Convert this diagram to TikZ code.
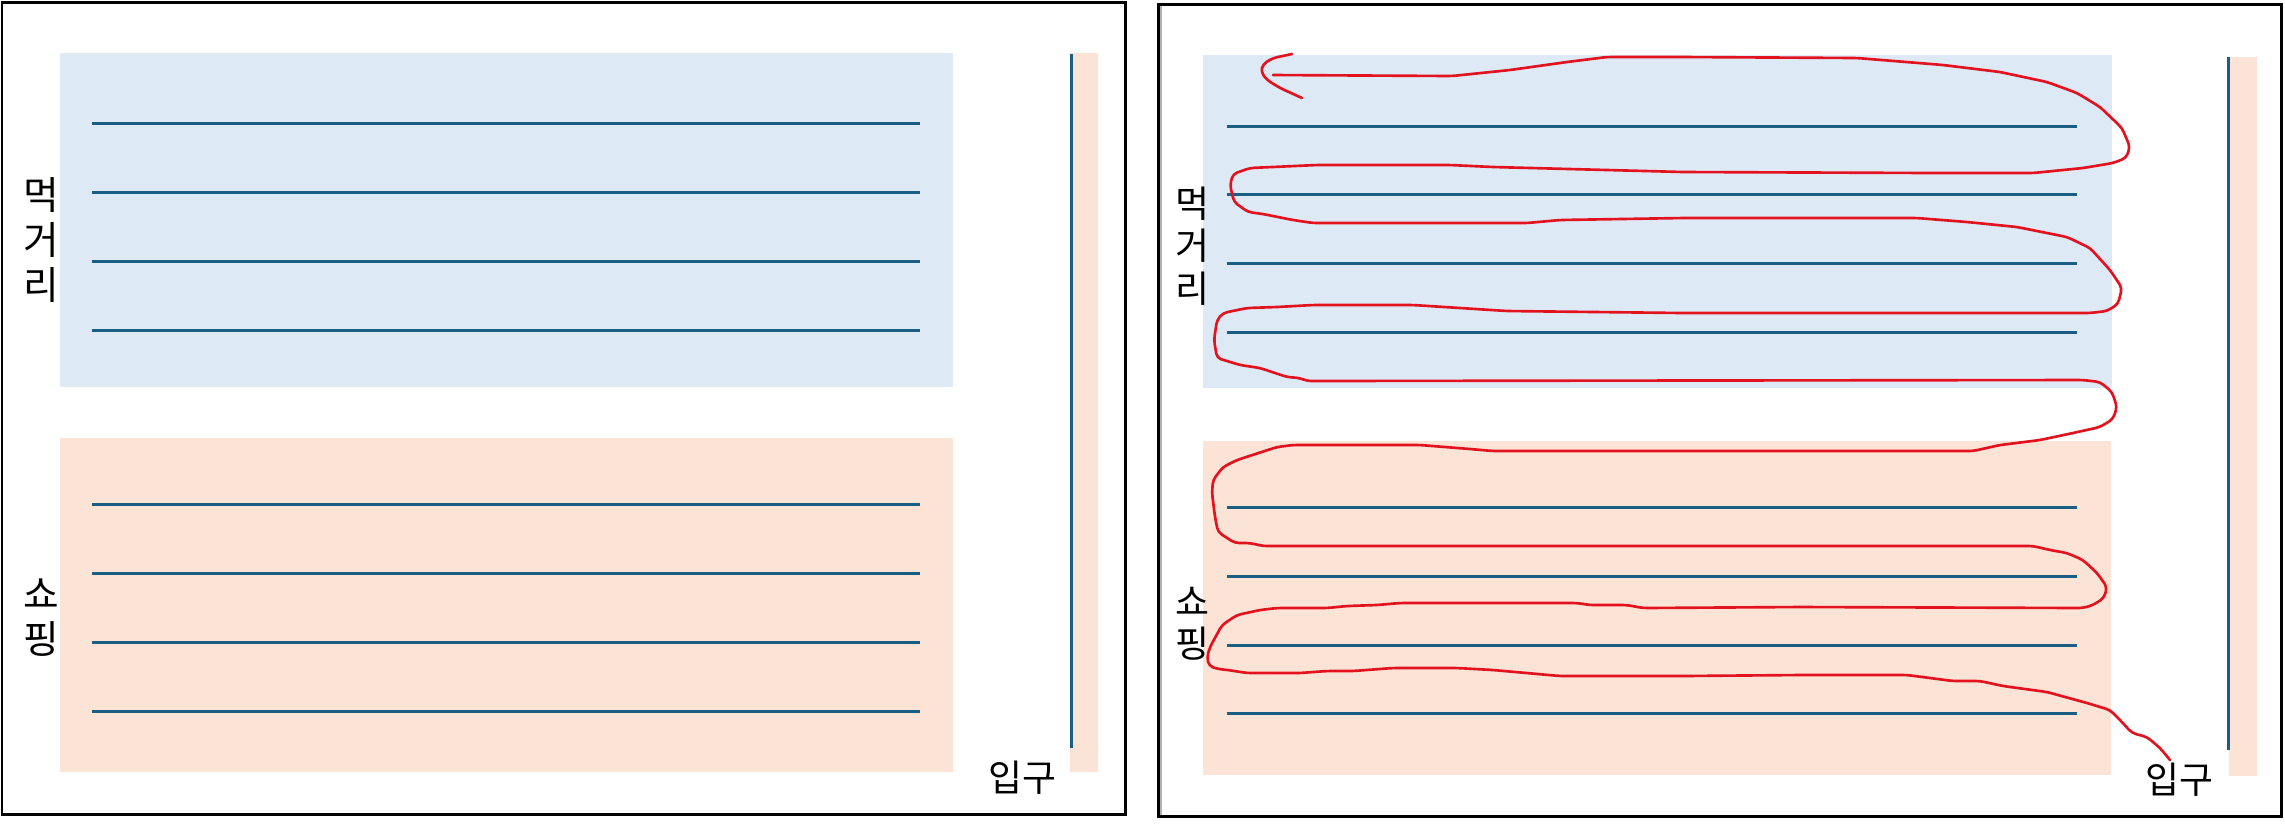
\documentclass[tikz,border=0pt]{standalone}
\usepackage{fontspec}
\newfontfamily\kr{Noto Sans CJK KR}
\definecolor{foodblue}{HTML}{DDEAF6}
\definecolor{shoppeach}{HTML}{FBE3D6}
\definecolor{aisle}{HTML}{1A5E84}
\definecolor{route}{HTML}{E2121E}
\begin{document}
\begin{tikzpicture}[x=0.01cm,y=-0.01cm,
  panel/.style={draw=black,line width=0.85pt},
  aisleline/.style={draw=aisle,line width=0.85pt},
  lbl/.style={font=\kr\fontsize{11}{12.8}\selectfont,align=center,inner sep=0pt},
  lblr/.style={font=\kr\fontsize{10.5}{12}\selectfont,align=center,inner sep=0pt},
  routeline/.style={draw=route,line width=0.75pt,line cap=round,line join=round,rounded corners=1.2pt}]
\useasboundingbox (0,0) rectangle (2285,826);
\fill[white] (0,0) rectangle (2285,826);
% ---------- left panel ----------
\fill[foodblue] (60,53) rectangle (953,387);
\fill[shoppeach] (60,438) rectangle (953,772);
\fill[shoppeach] (1070,53) rectangle (1098,772);
\foreach \y in {123,192,261,330,504,573,642,711}
  \draw[aisleline] (92,\y) -- (920,\y);
\draw[aisleline] (1071,54) -- (1071,748);
\draw[panel] (2,2) rectangle (1125,814);
\node[lbl] (foodL) at (41,240) {먹\\거\\리};
\node[lbl] (shopL) at (41,618) {쇼\\핑};
\node[lblr] (entL) at (1022,778) {입구};
% ---------- right panel ----------
\fill[foodblue] (1203,55) rectangle (2112,388);
\fill[shoppeach] (1203,441) rectangle (2111,775);
\fill[shoppeach] (2229,57) rectangle (2257,776);
\foreach \y in {126,194,263,332,507,576,645,713}
  \draw[aisleline] (1227,\y) -- (2077,\y);
\draw[aisleline] (2228,57) -- (2228,750);
\draw[gray!60,line width=0.5pt] (1161,6) -- (1161,815);
\draw[panel] (1158,4) rectangle (2281,816);
\node[lblr] (foodR) at (1192,246) {먹\\거\\리};
\node[lblr] (shopR) at (1192,624) {쇼\\핑};
\node[lblr] (entR) at (2179,780) {입구};
% ---------- route ----------
\draw[routeline] (2170,760) -- (2160,748) -- (2147,737) -- (2132,733) -- (2120,720) -- (2110,710) -- (2087,703) -- (2047,692) -- (2003,686) -- (1980,681) -- (1953,681) -- (1907,675) -- (1800,675) -- (1683,676) -- (1560,676) -- (1493,670) -- (1457,668) -- (1393,668) -- (1353,671) -- (1327,671) -- (1300,673) -- (1247,673) -- (1228,670) -- (1218,669) -- (1209,666) -- (1207,657) -- (1210,647) -- (1222,625) -- (1237,615) -- (1260,610) -- (1277,608) -- (1327,608) -- (1347,606) -- (1377,605) -- (1400,603) -- (1577,603) -- (1590,605) -- (1627,605) -- (1643,608) -- (1800,607) -- (2083,608) -- (2093,605) -- (2104,598) -- (2107,587) -- (2097,573) -- (2083,560) -- (2067,553) -- (2050,550) -- (2033,546) -- (1263,546) -- (1250,543) -- (1235,543) -- (1227,538) -- (1218,532) -- (1215,517) -- (1212,493) -- (1213,480) -- (1223,467) -- (1237,460) -- (1277,447) -- (1293,445) -- (1420,445) -- (1470,449) -- (1493,451) -- (1973,451) -- (2000,445) -- (2040,440) -- (2073,433) -- (2100,427) -- (2113,419) -- (2117,407) -- (2112,392) -- (2100,382) -- (2083,380) -- (1307,381) -- (1300,378) -- (1287,377) -- (1260,368) -- (1240,365) -- (1227,361) -- (1217,358) -- (1214,340) -- (1217,320) -- (1223,313) -- (1247,308) -- (1277,307) -- (1313,305) -- (1413,305) -- (1507,311) -- (1683,313) -- (2090,313) -- (2107,311) -- (2118,304) -- (2122,288) -- (2110,270) -- (2090,248) -- (2067,237) -- (2017,227) -- (1967,222) -- (1917,218) -- (1850,218) -- (1683,218) -- (1560,220) -- (1527,223) -- (1313,223) -- (1293,220) -- (1263,214) -- (1248,212) -- (1234,202) -- (1230,185) -- (1233,174) -- (1250,168) -- (1317,165) -- (1450,165) -- (1493,167) -- (1607,170) -- (1683,172) -- (1933,173) -- (2033,173) -- (2083,168) -- (2113,163) -- (2126,158) -- (2130,147) -- (2122,128) -- (2100,107) -- (2077,93) -- (2047,82) -- (2000,72) -- (1943,65) -- (1857,58) -- (1683,57) -- (1607,57) -- (1567,62) -- (1510,70) -- (1452,76) -- (1273,75);
\draw[routeline] (1292,54) -- (1273,58) -- (1263,64) -- (1261,72) -- (1267,80) -- (1280,88) -- (1302,98);
\end{tikzpicture}
\end{document}
